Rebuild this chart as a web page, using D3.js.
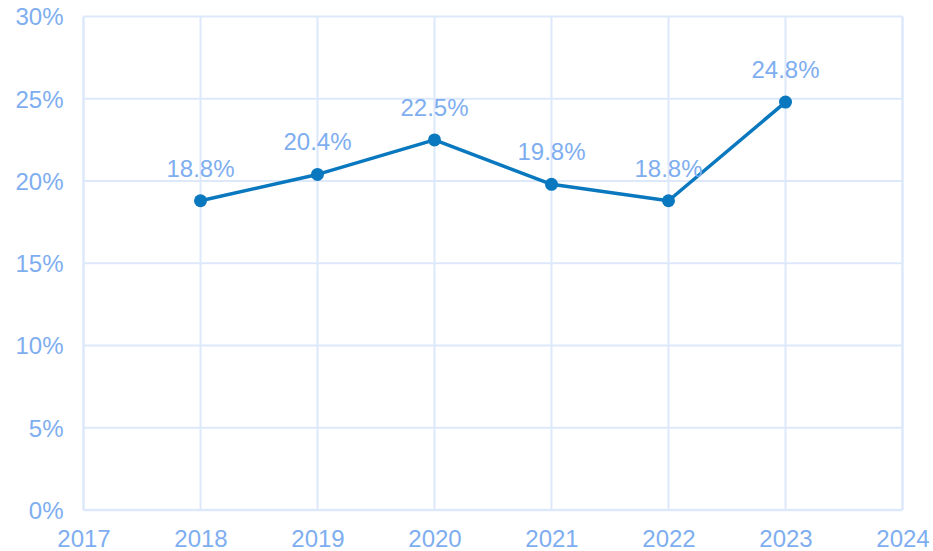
<!DOCTYPE html>
<html>
<head>
<meta charset="utf-8">
<script src="https://cdn.jsdelivr.net/npm/d3@7"></script>
<style>
  body { margin: 0; background: #fff; }
  text { font-family: "Liberation Sans", Arial, sans-serif; }
</style>
</head>
<body>
<div id="wrapper"></div>
<script>
const years = [2018, 2019, 2020, 2021, 2022, 2023]
const rates = [18.8, 20.4, 22.5, 19.8, 18.8, 24.8]
const xTicks = [2017, 2018, 2019, 2020, 2021, 2022, 2023, 2024]
const yTicks = [0, 5, 10, 15, 20, 25, 30]

const data = years.map((y, i) => ({ year: y, rate: rates[i] }))

const dims = {
  width: 933,
  height: 551,
  margin: { top: 16.5, right: 30, bottom: 41, left: 83.5 }
}
dims.boundedWidth = dims.width - dims.margin.left - dims.margin.right
dims.boundedHeight = dims.height - dims.margin.top - dims.margin.bottom

const labelColor = "#7eaef0"
const gridColor = "#dde9fb"
const lineColor = "#0a78bf"
const fontSize = "24px"

const svg = d3.select("#wrapper").append("svg")
  .attr("width", dims.width)
  .attr("height", dims.height)

const bounds = svg.append("g")
  .attr("transform", `translate(${dims.margin.left},${dims.margin.top})`)

const xScale = d3.scaleLinear()
  .domain([2017, 2024])
  .range([0, 819])

const yScale = d3.scaleLinear()
  .domain([0, 30])
  .range([493.5, 0])

// grid
bounds.append("g")
  .selectAll("line")
  .data(yTicks)
  .join("line")
    .attr("x1", 0)
    .attr("x2", xScale(2024))
    .attr("y1", d => yScale(d))
    .attr("y2", d => yScale(d))
    .attr("stroke", gridColor)
    .attr("stroke-width", d => d === 0 ? 2.5 : 2)

bounds.append("g")
  .selectAll("line")
  .data(xTicks)
  .join("line")
    .attr("x1", d => xScale(d))
    .attr("x2", d => xScale(d))
    .attr("y1", 0)
    .attr("y2", yScale(0))
    .attr("stroke", gridColor)
    .attr("stroke-width", d => (d === 2017 || d === 2024) ? 2.5 : 2)

// axes
const yAxis = bounds.append("g")
  .call(d3.axisLeft(yScale).tickValues(yTicks).tickFormat(d => d + "%").tickSize(0).tickPadding(20))
yAxis.select(".domain").remove()
yAxis.selectAll("text")
  .attr("fill", labelColor)
  .style("font-size", fontSize)
  .attr("dy", "0.35em")

const xAxis = bounds.append("g")
  .attr("transform", `translate(0,${yScale(0)})`)
  .call(d3.axisBottom(xScale).tickValues(xTicks).tickFormat(d3.format("d")).tickSize(0).tickPadding(20))
xAxis.select(".domain").remove()
xAxis.selectAll("text")
  .attr("fill", labelColor)
  .style("font-size", fontSize)

// line
const lineGenerator = d3.line()
  .x(d => xScale(d.year))
  .y(d => yScale(d.rate))

bounds.append("path")
  .datum(data)
  .attr("d", lineGenerator)
  .attr("fill", "none")
  .attr("stroke", lineColor)
  .attr("stroke-width", 3.5)
  .attr("stroke-linejoin", "round")

bounds.append("g")
  .selectAll("circle")
  .data(data)
  .join("circle")
    .attr("cx", d => xScale(d.year))
    .attr("cy", d => yScale(d.rate))
    .attr("r", 6.5)
    .attr("fill", lineColor)

bounds.append("g")
  .selectAll("text")
  .data(data)
  .join("text")
    .attr("x", d => xScale(d.year))
    .attr("y", d => yScale(d.rate) - 24)
    .attr("text-anchor", "middle")
    .attr("fill", labelColor)
    .style("font-size", fontSize)
    .text(d => d.rate.toFixed(1) + "%")
</script>
</body>
</html>
